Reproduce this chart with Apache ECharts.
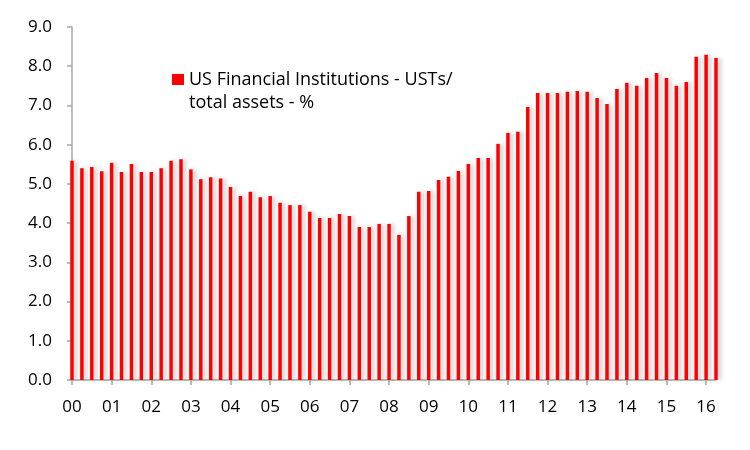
<!DOCTYPE html>
<html>
<head>
  <meta charset="UTF-8">
  <title>US Financial Institutions - USTs / total assets</title>
  <style>
    html, body { margin: 0; padding: 0; background: #fff; }
    #chart { width: 750px; height: 450px; }
  </style>
  <script src="https://cdn.jsdelivr.net/npm/echarts@6/dist/echarts.min.js"></script>
</head>
<body>
  <div id="chart"></div>
  <script>
    var years = ['00', '01', '02', '03', '04', '05', '06', '07', '08',
                 '09', '10', '11', '12', '13', '14', '15', '16'];

    // quarterly, 2000 Q1 .. 2016 Q2
    var ustShare = [
      5.59, 5.40, 5.43, 5.32,   // 00
      5.54, 5.30, 5.51, 5.30,   // 01
      5.30, 5.40, 5.59, 5.63,   // 02
      5.37, 5.12, 5.17, 5.14,   // 03
      4.92, 4.69, 4.80, 4.66,   // 04
      4.69, 4.52, 4.46, 4.46,   // 05
      4.29, 4.13, 4.13, 4.23,   // 06
      4.18, 3.90, 3.90, 3.98,   // 07
      3.98, 3.70, 4.18, 4.80,   // 08
      4.82, 5.10, 5.18, 5.33,   // 09
      5.51, 5.66, 5.66, 6.02,   // 10
      6.30, 6.33, 6.96, 7.32,   // 11
      7.32, 7.32, 7.35, 7.37,   // 12
      7.35, 7.19, 7.04, 7.42,   // 13
      7.58, 7.50, 7.70, 7.83,   // 14
      7.70, 7.50, 7.60, 8.24,   // 15
      8.29, 8.21                // 16
    ];

    var seriesName = 'US Financial Institutions - USTs/\ntotal assets - %';

    // one category per quarter, e.g. "00 Q1"
    var quarters = [];
    for (var i = 0; i < ustShare.length; i++) {
      quarters.push(years[Math.floor(i / 4)] + ' Q' + (i % 4 + 1));
    }

    var myChart = echarts.init(document.getElementById('chart'));
    var font = '"Open Sans", "DejaVu Sans", sans-serif';

    var option = {
      animation: false,
      grid: { left: 72, right: 34, top: 27, bottom: 70, containLabel: false },
      legend: {
        left: 172,
        top: 45,
        padding: 0,
        itemWidth: 12,
        itemHeight: 11,
        icon: 'rect',
        // blank first line so the icon sits next to the first text line
        formatter: function (name) { return '\n' + name; },
        textStyle: { fontFamily: font, fontSize: 18, color: '#000', lineHeight: 23 },
        data: [seriesName]
      },
      xAxis: {
        type: 'category',
        data: quarters,
        boundaryGap: false,
        axisLine: { lineStyle: { color: '#a6a6a6', width: 1.5 } },
        axisTick: { interval: 3, length: 5, lineStyle: { color: '#a6a6a6', width: 1.5 } },
        axisLabel: {
          interval: 3,
          margin: 19,
          fontFamily: font,
          fontSize: 17,
          color: '#000',
          formatter: function (v) { return v.slice(0, 2); }
        },
        splitLine: { show: false }
      },
      yAxis: {
        type: 'value',
        min: 0,
        max: 9,
        interval: 1,
        axisLine: { show: true, lineStyle: { color: '#a6a6a6', width: 1.5 } },
        axisTick: { show: true, length: 5, lineStyle: { color: '#a6a6a6', width: 1.5 } },
        axisLabel: {
          margin: 20,
          fontFamily: font,
          fontSize: 17,
          color: '#000',
          formatter: function (v) { return v.toFixed(1); }
        },
        splitLine: { show: false }
      },
      series: [{
        name: seriesName,
        type: 'bar',
        data: ustShare,
        barWidth: 3.5,
        itemStyle: {
          color: '#ff0000',
          shadowColor: 'rgba(0, 0, 0, 0.22)',
          shadowBlur: 4,
          shadowOffsetX: 3
        }
      }]
    };
    myChart.setOption(option);
  </script>
</body>
</html>
